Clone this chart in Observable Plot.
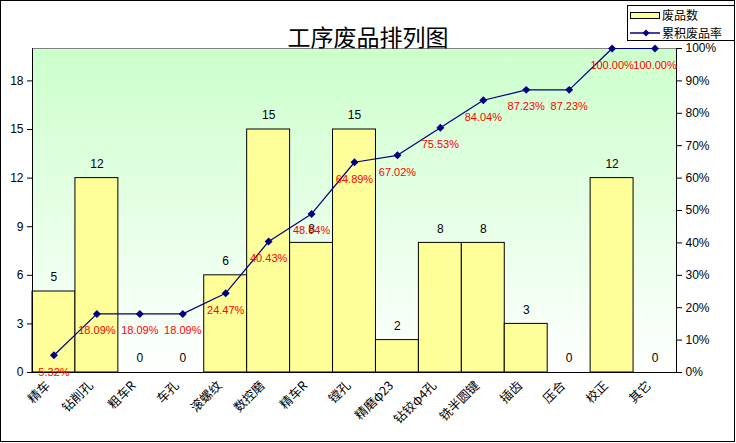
<!DOCTYPE html>
<html><head><meta charset="utf-8">
<script src="https://cdn.jsdelivr.net/npm/d3@7"></script>
<script src="https://cdn.jsdelivr.net/npm/@observablehq/plot@0.6"></script>
<style>
body{margin:0;background:#fff;}
#wrap{position:relative;width:736px;height:443px;overflow:hidden;background:#fff;}
#chart{position:absolute;left:0;top:0;}
#frame{position:absolute;left:0;top:0;width:735px;height:442px;border:1px solid #000;box-sizing:border-box;pointer-events:none;}
#title{position:absolute;left:0;width:736px;top:21px;text-align:center;font:23px "Noto Sans CJK SC";line-height:30px;color:#000;}
#legend{position:absolute;left:627px;top:5px;width:108px;height:36px;border:1px solid #000;background:#fff;box-sizing:border-box;font:12px "Noto Sans CJK SC";color:#000;}
#legend .sw{position:absolute;left:2px;top:6px;width:30px;height:7px;background:#ffff99;border:1px solid #000;box-sizing:border-box;}
#legend .t{position:absolute;left:34px;line-height:12px;height:12px;}
#legend svg{position:absolute;left:1px;top:20px;}
</style></head>
<body>
<div id="wrap">
  <div id="chart"></div>
  <div id="title">工序废品排列图</div>
  <div id="legend">
    <div class="sw"></div><div class="t" style="top:3px">废品数</div>
    <svg width="32" height="14"><line x1="1" y1="7" x2="31" y2="7" stroke="#000080" stroke-width="1.5"/><path d="M17,3.5L20.5,7L17,10.5L13.5,7Z" fill="#000080"/></svg>
    <div class="t" style="top:21px">累积废品率</div>
  </div>
  <div id="frame"></div>
</div>
<script>
const categories = ["精车","钻削孔","粗车R","车孔","滚螺纹","数控磨","精车R","镗孔","精磨φ23","钻铰φ4孔","铣半圆键","插齿","压合","校正","其它"];
const counts = [5,12,0,0,6,15,8,15,2,8,8,3,0,12,0];
const cumPercent = [5.32,18.09,18.09,18.09,24.47,40.43,48.94,64.89,67.02,75.53,84.04,87.23,87.23,100,100];
const countTicks = [0,3,6,9,12,15,18];
const percentTicks = [0,10,20,30,40,50,60,70,80,90,100];
const countMax = 20;
const percentMax = 100;

const rows = categories.map((c,i)=>({cat:c, count:counts[i], pct:cumPercent[i], pctY:cumPercent[i]/percentMax*countMax}));

const svg = Plot.plot({
  width:736, height:443,
  marginTop:48, marginBottom:71, marginLeft:32, marginRight:60,
  style:{background:"transparent", fontFamily:"'Liberation Sans', Arial, sans-serif", fontSize:"12px", color:"#000"},
  x:{domain:categories, padding:0, round:false, axis:null},
  y:{domain:[0,countMax], axis:null},
  marks:[
    Plot.frame({fill:"url(#bgGrad)", stroke:"#808080"}),
    Plot.barY(rows,{x:"cat", y:"count", fill:"#ffff99", stroke:"#000", strokeWidth:1}),
    Plot.frame({anchor:"left", stroke:"#000"}),
    Plot.frame({anchor:"right", stroke:"#000"}),
    Plot.frame({anchor:"bottom", stroke:"#000"}),
    Plot.axisY(countTicks,{anchor:"left", tickSize:5, tickPadding:4, fontSize:12, tickFormat:d=>d, label:null}),
    Plot.axisY(percentTicks.map(p=>p/percentMax*countMax),{anchor:"right", tickSize:5, tickPadding:4, fontSize:12, tickFormat:d=>Math.round(d/countMax*percentMax)+"%", label:null}),
    Plot.axisX({tickRotate:-45, tickSize:0, tickPadding:11, dx:-6, fontSize:12.5, fontFamily:"'Noto Sans CJK SC'", label:null}),
    Plot.text(rows,{x:"cat", y:"count", text:d=>String(d.count), dy:-14, fontSize:12, fill:"#000"}),
    Plot.line(rows,{x:"cat", y:"pctY", stroke:"#000080", strokeWidth:1.2}),
    Plot.dot(rows,{x:"cat", y:"pctY", symbol:"diamond2", r:3.6, fill:"#000080", stroke:"none"}),
    Plot.text(rows,{x:"cat", y:"pctY", text:d=>d.pct.toFixed(2)+"%", dy:17, fontSize:11, fill:"#ff0000"})
  ]
});
const defs = d3.select(svg).insert("defs",":first-child");
const g = defs.append("linearGradient").attr("id","bgGrad").attr("x1",0).attr("y1",0).attr("x2",0).attr("y2",1);
g.append("stop").attr("offset","0%").attr("stop-color","#ccffcc");
g.append("stop").attr("offset","100%").attr("stop-color","#ffffff");
document.getElementById("chart").appendChild(svg);
</script>
</body></html>
